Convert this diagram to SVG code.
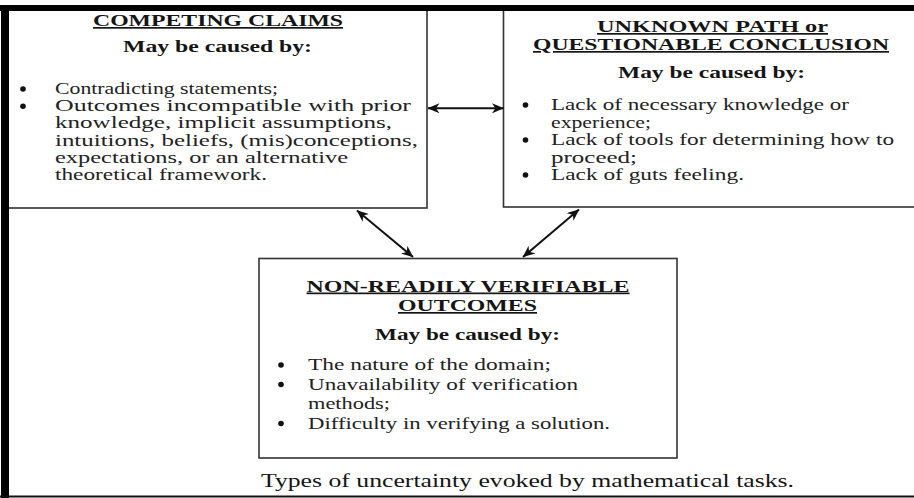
<svg xmlns="http://www.w3.org/2000/svg" width="914" height="498" viewBox="0 0 914 498">
<style>
.t{font-family:'Liberation Serif','Times New Roman',Times,'Nimbus Roman',serif;fill:#151515;}
.h{font-weight:bold;font-size:17px;}
.hu{font-weight:bold;font-size:17px;text-decoration:underline;}
.r{font-size:17px;fill:#222;}
.box{fill:#fff;stroke:#333;stroke-width:1.6;}
.bul{fill:#111;}
.con{stroke:#111;stroke-width:2;fill:none;marker-start:url(#ah);marker-end:url(#ah);}
</style>
<defs>
<marker id="ah" viewBox="0 0 12 10" refX="11.5" refY="5" markerWidth="12" markerHeight="10" markerUnits="userSpaceOnUse" orient="auto-start-reverse">
<path d="M0,0 L12,5 L0,10 L3.5,5 z" fill="#111"/>
</marker>
</defs>
<rect width="914" height="498" fill="#fff"/>

<g id="competing-claims">
<rect class="box" x="8" y="10" width="419" height="198"/>
<text class="t hu" x="93" y="26" textLength="250" lengthAdjust="spacingAndGlyphs">COMPETING CLAIMS</text>
<text class="t h" x="123" y="52" textLength="189" lengthAdjust="spacingAndGlyphs">May be caused by:</text>
<circle class="bul" cx="23" cy="89" r="2.8"/>
<circle class="bul" cx="23" cy="106.2" r="2.8"/>
<text class="t r" x="55" y="94" textLength="223" lengthAdjust="spacingAndGlyphs">Contradicting statements;</text>
<text class="t r" x="55" y="111.2" textLength="356" lengthAdjust="spacingAndGlyphs">Outcomes incompatible with prior</text>
<text class="t r" x="55" y="128.4" textLength="337" lengthAdjust="spacingAndGlyphs">knowledge, implicit assumptions,</text>
<text class="t r" x="55" y="145.6" textLength="363" lengthAdjust="spacingAndGlyphs">intuitions, beliefs, (mis)conceptions,</text>
<text class="t r" x="55" y="162.8" textLength="293" lengthAdjust="spacingAndGlyphs">expectations, or an alternative</text>
<text class="t r" x="55" y="180" textLength="212" lengthAdjust="spacingAndGlyphs">theoretical framework.</text>
</g>

<g id="unknown-path">
<rect class="box" x="503.5" y="10" width="420" height="197"/>
<text class="t hu" x="597" y="32" textLength="231" lengthAdjust="spacingAndGlyphs">UNKNOWN PATH or</text>
<text class="t hu" x="533" y="50" textLength="356" lengthAdjust="spacingAndGlyphs">QUESTIONABLE CONCLUSION</text>
<text class="t h" x="618" y="78" textLength="187" lengthAdjust="spacingAndGlyphs">May be caused by:</text>
<circle class="bul" cx="525.5" cy="105" r="2.8"/>
<circle class="bul" cx="525.5" cy="140" r="2.8"/>
<circle class="bul" cx="525.5" cy="175" r="2.8"/>
<text class="t r" x="551" y="110" textLength="298" lengthAdjust="spacingAndGlyphs">Lack of necessary knowledge or</text>
<text class="t r" x="551" y="127.5" textLength="100" lengthAdjust="spacingAndGlyphs">experience;</text>
<text class="t r" x="551" y="145" textLength="343" lengthAdjust="spacingAndGlyphs">Lack of tools for determining how to</text>
<text class="t r" x="551" y="162.5" textLength="86" lengthAdjust="spacingAndGlyphs">proceed;</text>
<text class="t r" x="551" y="180" textLength="193" lengthAdjust="spacingAndGlyphs">Lack of guts feeling.</text>
</g>

<g id="non-readily-verifiable">
<rect class="box" x="259" y="258.5" width="418" height="199.5"/>
<text class="t hu" x="306.5" y="291.5" textLength="323" lengthAdjust="spacingAndGlyphs">NON-READILY VERIFIABLE</text>
<text class="t hu" x="398" y="311" textLength="139" lengthAdjust="spacingAndGlyphs">OUTCOMES</text>
<text class="t h" x="375" y="340" textLength="185" lengthAdjust="spacingAndGlyphs">May be caused by:</text>
<circle class="bul" cx="281" cy="365" r="2.8"/>
<circle class="bul" cx="281" cy="384.5" r="2.8"/>
<circle class="bul" cx="281" cy="423.5" r="2.8"/>
<text class="t r" x="308" y="370" textLength="243" lengthAdjust="spacingAndGlyphs">The nature of the domain;</text>
<text class="t r" x="308" y="389.5" textLength="270" lengthAdjust="spacingAndGlyphs">Unavailability of verification</text>
<text class="t r" x="308" y="409" textLength="82" lengthAdjust="spacingAndGlyphs">methods;</text>
<text class="t r" x="308" y="428.5" textLength="302" lengthAdjust="spacingAndGlyphs">Difficulty in verifying a solution.</text>
</g>

<g id="frame">
<rect x="0" y="5" width="914" height="6" fill="#000"/>
<rect x="1" y="5" width="8" height="493" fill="#000"/>
<rect x="0" y="495.5" width="914" height="2" fill="#111"/>
</g>

<g id="connectors">
<line class="con" x1="428" y1="108.3" x2="503.5" y2="108.3"/>
<line class="con" x1="357" y1="210.5" x2="413" y2="257"/>
<line class="con" x1="579" y1="209.5" x2="523" y2="257"/>
</g>

<text id="caption" class="t" x="261" y="487" font-size="19" textLength="533" lengthAdjust="spacingAndGlyphs">Types of uncertainty evoked by mathematical tasks.</text>
</svg>
